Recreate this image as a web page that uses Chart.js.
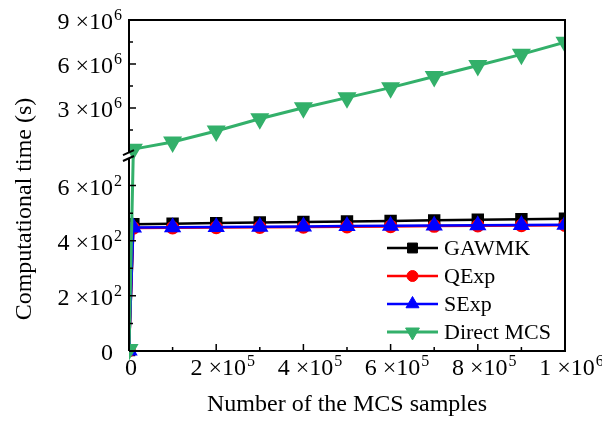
<!DOCTYPE html>
<html>
<head>
<meta charset="utf-8">
<script src="https://cdn.jsdelivr.net/npm/chart.js@4.4.0/dist/chart.umd.min.js"></script>
<style>
  body { margin: 0; background: #fff; }
</style>
</head>
<body>
<canvas id="chart" width="602" height="421"></canvas>
<script>
// data
var samples = [100, 10000, 100000, 200000, 300000, 400000, 500000, 600000, 700000, 800000, 900000, 1000000];
var gawmk = [3, 460, 462, 464, 466, 468, 470, 472, 474, 476, 478, 480];
var qexp = [2, 446, 447, 448, 449, 450, 451, 452, 453, 454, 455, 456];
var sexp = [2, 448, 449, 450, 451, 452, 453, 454, 455, 456, 457, 458];
var directMcs = [5, 200000, 690000, 1440000, 2270000, 3020000, 3710000, 4390000, 5150000, 5900000, 6660000, 7480000];

// tick labels: text before '^' is normal size, after it is the exponent
var yTicks = [0, 200, 400, 600, 3000000, 6000000, 9000000];
var yTickLabels = ['0', '2 ×10^2', '4 ×10^2', '6 ×10^2', '3 ×10^6', '6 ×10^6', '9 ×10^6'];
var yMinorTicks = [100, 300, 500, 1500000, 4500000, 7500000];
var xTicks = [0, 200000, 400000, 600000, 800000, 1000000];
var xTickLabels = ['0', '2 ×10^5', '4 ×10^5', '6 ×10^5', '8 ×10^5', '1 ×10^6'];
var xMinorTicks = [100000, 300000, 500000, 700000, 900000];

// broken y axis: lower part 0..700, upper part 0..9e6
var LOW_MAX = 700, HIGH_MAX = 9000000;
var LOW_PART = 0.583, GAP_PART = 0.018;

class BrokenScale extends Chart.LinearScale {
  determineDataLimits() { this.min = 0; this.max = HIGH_MAX; }
  buildTicks() { return yTicks.map(function (v) { return { value: v }; }); }
  breakPixels() {
    var h = this.bottom - this.top;
    var lowTop = this.bottom - h * LOW_PART;
    return { lowTop: lowTop, highBottom: lowTop - h * GAP_PART };
  }
  getPixelForValue(v) {
    var b = this.breakPixels();
    if (v <= LOW_MAX) return this.bottom - (v / LOW_MAX) * (this.bottom - b.lowTop);
    return b.highBottom - (v / HIGH_MAX) * (b.highBottom - this.top);
  }
  getValueForPixel(p) {
    var b = this.breakPixels();
    if (p >= b.lowTop) return (this.bottom - p) / (this.bottom - b.lowTop) * LOW_MAX;
    return (b.highBottom - p) / (b.highBottom - this.top) * HIGH_MAX;
  }
}
BrokenScale.id = 'broken';
BrokenScale.defaults = {};
Chart.register(BrokenScale);

var FONT = 'Liberation Serif, Times New Roman, serif';

function pts(ys) {
  return ys.map(function (y, i) { return { x: samples[i], y: y }; });
}

// draws "base" + raised exponent; anchor is the right (or centre) of the base text
function drawPowerLabel(ctx, label, x, baseline, align) {
  var parts = label.split('^');
  ctx.font = '24px ' + FONT;
  var w = ctx.measureText(parts[0]).width;
  var left = align === 'right' ? x - w : x - w / 2;
  ctx.textAlign = 'left';
  ctx.textBaseline = 'alphabetic';
  ctx.fillText(parts[0], left, baseline);
  if (parts[1]) {
    ctx.font = '16px ' + FONT;
    ctx.fillText(parts[1], left + w + 1, baseline - 9);
  }
}

// frame, inward ticks, tick labels, axis break, y title
var framePlugin = {
  id: 'frame',
  afterDatasetsDraw: function (chart) {
    var ctx = chart.ctx, a = chart.chartArea;
    var xs = chart.scales.x, ys = chart.scales.y;
    var b = ys.breakPixels();
    ctx.save();
    ctx.strokeStyle = '#000';
    ctx.lineWidth = 2;
    ctx.beginPath();
    ctx.moveTo(a.left, a.bottom); ctx.lineTo(a.right, a.bottom);
    ctx.lineTo(a.right, a.top); ctx.lineTo(a.left, a.top);
    ctx.lineTo(a.left, b.highBottom);
    ctx.moveTo(a.left, b.lowTop); ctx.lineTo(a.left, a.bottom);
    ctx.stroke();

    ctx.lineWidth = 1.5;
    ctx.beginPath();
    yTicks.forEach(function (v) { var p = ys.getPixelForValue(v); ctx.moveTo(a.left, p); ctx.lineTo(a.left + 7, p); });
    yMinorTicks.forEach(function (v) { var p = ys.getPixelForValue(v); ctx.moveTo(a.left, p); ctx.lineTo(a.left + 4, p); });
    xTicks.forEach(function (v) { var p = xs.getPixelForValue(v); ctx.moveTo(p, a.bottom); ctx.lineTo(p, a.bottom - 7); });
    xMinorTicks.forEach(function (v) { var p = xs.getPixelForValue(v); ctx.moveTo(p, a.bottom); ctx.lineTo(p, a.bottom - 4); });
    ctx.stroke();

    // break marks
    ctx.lineWidth = 2;
    ctx.beginPath();
    ctx.moveTo(a.left - 6, b.highBottom + 3); ctx.lineTo(a.left + 5, b.highBottom - 2);
    ctx.moveTo(a.left - 6, b.lowTop + 3); ctx.lineTo(a.left + 5, b.lowTop - 2);
    ctx.stroke();

    ctx.fillStyle = '#000';
    yTicks.forEach(function (v, i) {
      drawPowerLabel(ctx, yTickLabels[i], a.left - 16, ys.getPixelForValue(v) + 9, 'right');
    });
    xTicks.forEach(function (v, i) {
      drawPowerLabel(ctx, xTickLabels[i], xs.getPixelForValue(v) + 2, a.bottom + 24, 'center');
    });

    ctx.font = '24px ' + FONT;
    ctx.textAlign = 'center';
    ctx.textBaseline = 'middle';
    ctx.translate(25, 209);
    ctx.rotate(-Math.PI / 2);
    ctx.fillText('Computational time (s)', 0, 0);
    ctx.restore();
  }
};

// legend inside the plot, line + marker like the original
var legendPlugin = {
  id: 'insideLegend',
  afterDraw: function (chart) {
    var ctx = chart.ctx, a = chart.chartArea;
    var x0 = a.right - 178, y0 = a.bottom - 103;
    ctx.save();
    ctx.font = '22px ' + FONT;
    ctx.textBaseline = 'middle';
    ctx.textAlign = 'left';
    chart.data.datasets.forEach(function (ds, i) {
      var y = y0 + i * 28;
      ctx.strokeStyle = ds.borderColor;
      ctx.lineWidth = ds.borderWidth;
      ctx.beginPath();
      ctx.moveTo(x0, y); ctx.lineTo(x0 + 51, y);
      ctx.stroke();
      ctx.fillStyle = ds.pointBackgroundColor;
      ctx.strokeStyle = ds.pointBorderColor;
      ctx.lineWidth = 1;
      Chart.helpers.drawPoint(ctx, { pointStyle: ds.pointStyle, radius: ds.pointRadius, rotation: ds.pointRotation || 0, borderWidth: 1 }, x0 + 25.5, y);
      ctx.fillStyle = '#000';
      ctx.fillText(ds.label, x0 + 57, y + 1);
    });
    ctx.restore();
  }
};

Chart.defaults.color = '#000';
Chart.defaults.font.family = FONT;

new Chart(document.getElementById('chart'), {
  type: 'line',
  data: {
    datasets: [
      { label: 'GAWMK', data: pts(gawmk), borderColor: '#000000', borderWidth: 2.5,
        pointStyle: 'rect', pointRadius: 7, pointBackgroundColor: '#000000', pointBorderColor: '#000000', order: 3 },
      { label: 'QExp', data: pts(qexp), borderColor: '#ff0000', borderWidth: 2.5,
        pointStyle: 'circle', pointRadius: 5.5, pointBackgroundColor: '#ff0000', pointBorderColor: '#ff0000', order: 2 },
      { label: 'SExp', data: pts(sexp), borderColor: '#0000ff', borderWidth: 2.5,
        pointStyle: 'triangle', pointRadius: 7.5, pointBackgroundColor: '#0000ff', pointBorderColor: '#0000ff', order: 1 },
      { label: 'Direct MCS', data: pts(directMcs), borderColor: '#33b06a', borderWidth: 3,
        pointStyle: 'triangle', pointRotation: 180, pointRadius: 8, pointBackgroundColor: '#33b06a', pointBorderColor: '#33b06a', order: 0 }
    ]
  },
  options: {
    responsive: false,
    animation: false,
    devicePixelRatio: 1,
    layout: { padding: { left: 0, right: 37, top: 20, bottom: 0 } },
    elements: { line: { tension: 0 } },
    plugins: { legend: { display: false }, tooltip: { enabled: false } },
    scales: {
      x: {
        type: 'linear', min: 0, max: 1000000,
        grid: { display: false, drawTicks: false },
        border: { display: false },
        afterBuildTicks: function (s) { s.ticks = xTicks.map(function (v) { return { value: v }; }); },
        afterFit: function (s) { s.height = 70; s.paddingLeft = 0; s.paddingRight = 0; },
        ticks: { display: false },
        title: { display: true, text: 'Number of the MCS samples', font: { size: 24 }, padding: { top: 0, bottom: 2 } }
      },
      y: {
        type: 'broken',
        grid: { display: false, drawTicks: false },
        border: { display: false },
        afterFit: function (s) { s.width = 129; s.paddingTop = 0; s.paddingBottom = 0; },
        ticks: { display: false }
      }
    }
  },
  plugins: [framePlugin, legendPlugin]
});
</script>
</body>
</html>
